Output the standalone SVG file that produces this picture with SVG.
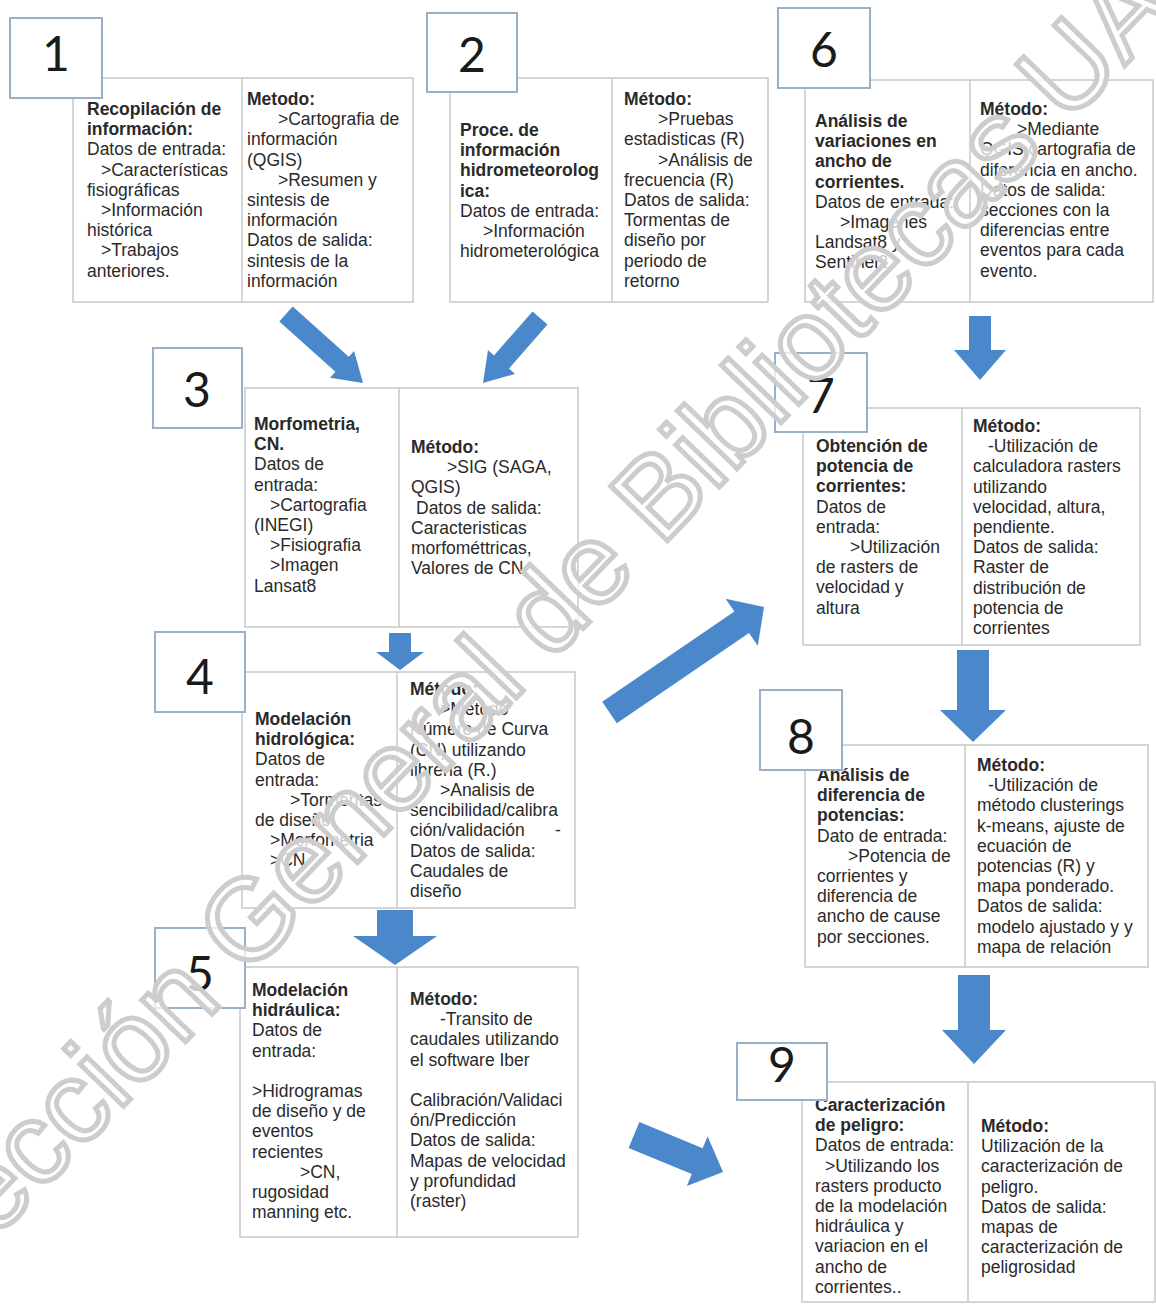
<svg xmlns="http://www.w3.org/2000/svg" width="1156" height="1304" viewBox="0 0 1156 1304">
<style>
.box{fill:#fff;stroke:#c8c8c8;stroke-width:1.5}
.div{stroke:#c8c8c8;stroke-width:1.5}
.nb{fill:#fff;stroke:#9ab0c6;stroke-width:2}
.num{font-family:Lato,"Open Sans","Liberation Sans",sans-serif;font-size:48px;fill:#1a1a1a;text-anchor:middle}
.t{font-family:"Liberation Sans",Arial,sans-serif;font-size:17.5px;fill:#2a2a2a}
.b{font-weight:bold}
.arr{fill:#4a88cb}
.wm{font-family:"Liberation Sans",Arial,sans-serif;font-size:114.5px;fill:#fff;fill-opacity:0.75;stroke:#cdcdcd;stroke-width:5}
</style>
<rect width="1156" height="1304" fill="#fff"/>

<g id="connectors">
<polygon class="arr" points="292.7,306.6 348.8,356.8 354.1,350.9 363,383 330.1,377.7 335.4,371.8 279.3,321.5"/>
<polygon class="arr" points="547.5,324.6 509,368.6 515,373.9 483,383 488,350.1 494,355.4 532.5,311.4"/>
<polygon class="arr" points="969,316 991,316 991,350 1006,350 980,380 954,350 969,350"/>
<polygon class="arr" points="389,633 411,633 411,652 424,652 400,670 376,652 389,652"/>
<polygon class="arr" points="957,650 989,650 989,710 1006,710 973,742 940,710 957,710"/>
<polygon class="arr" points="377,910 413,910 413,936 437,936 395,965 353,936 377,936"/>
<polygon class="arr" points="958,975 990,975 990,1030 1006,1030 974,1064 942,1030 958,1030"/>
<polygon class="arr" points="602.2,701.8 734.4,611.5 725.6,598.7 764,607 757.8,645.7 749,632.9 616.8,723.2"/>
<polygon class="arr" points="639.4,1122.1 702.6,1148.3 707.6,1136.3 723,1172 686.8,1186.1 691.8,1174.1 628.6,1147.9"/>
</g>

<g id="node1">
<rect class="box" x="73" y="78" width="340" height="224"/>
<line class="div" x1="242" y1="78" x2="242" y2="302"/>
<text class="t"><tspan class="b" x="87" y="115">Recopilación de</tspan><tspan class="b" x="87" y="135">información:</tspan><tspan x="87" y="155">Datos de entrada:</tspan><tspan x="101" y="176">&gt;Características</tspan><tspan x="87" y="196">fisiográficas</tspan><tspan x="101" y="216">&gt;Información</tspan><tspan x="87" y="236">histórica</tspan><tspan x="101" y="256">&gt;Trabajos</tspan><tspan x="87" y="277">anteriores.</tspan></text>
<text class="t"><tspan class="b" x="247" y="105">Metodo:</tspan><tspan x="278" y="125">&gt;Cartografia de</tspan><tspan x="247" y="145">información</tspan><tspan x="247" y="166">(QGIS)</tspan><tspan x="278" y="186">&gt;Resumen y</tspan><tspan x="247" y="206">sintesis de</tspan><tspan x="247" y="226">información</tspan><tspan x="247" y="246">Datos de salida:</tspan><tspan x="247" y="267">sintesis de la</tspan><tspan x="247" y="287">información</tspan></text>
<rect class="nb" x="10" y="18" width="92" height="80"/>
<text class="num" x="56" y="71">1</text>
</g>

<g id="node2">
<rect class="box" x="450" y="78" width="318" height="224"/>
<line class="div" x1="612" y1="78" x2="612" y2="302"/>
<text class="t"><tspan class="b" x="460" y="136">Proce. de</tspan><tspan class="b" x="460" y="156">información</tspan><tspan class="b" x="460" y="176">hidrometeorolog</tspan><tspan class="b" x="460" y="197">ica:</tspan><tspan x="460" y="217">Datos de entrada:</tspan><tspan x="483" y="237">&gt;Información</tspan><tspan x="460" y="257">hidrometerológica</tspan></text>
<text class="t"><tspan class="b" x="624" y="105">Método:</tspan><tspan x="658" y="125">&gt;Pruebas</tspan><tspan x="624" y="145">estadisticas (R)</tspan><tspan x="658" y="166">&gt;Análisis de</tspan><tspan x="624" y="186">frecuencia (R)</tspan><tspan x="624" y="206">Datos de salida:</tspan><tspan x="624" y="226">Tormentas de</tspan><tspan x="624" y="246">diseño por</tspan><tspan x="624" y="267">periodo de</tspan><tspan x="624" y="287">retorno</tspan></text>
<rect class="nb" x="427" y="13" width="90" height="79"/>
<text class="num" x="472" y="72">2</text>
</g>

<g id="node6">
<rect class="box" x="805" y="80" width="348" height="222"/>
<line class="div" x1="970" y1="80" x2="970" y2="302"/>
<text class="t"><tspan class="b" x="815" y="127">Análisis de</tspan><tspan class="b" x="815" y="147">variaciones en</tspan><tspan class="b" x="815" y="167">ancho de</tspan><tspan class="b" x="815" y="188">corrientes.</tspan><tspan x="815" y="208">Datos de entrada:</tspan><tspan x="840" y="228">&gt;Imagenes</tspan><tspan x="815" y="248">Landsat8 y</tspan><tspan x="815" y="268">Sentinel2</tspan></text>
<text class="t"><tspan class="b" x="980" y="115">Método:</tspan><tspan x="1017" y="135">&gt;Mediante</tspan><tspan x="980" y="155">QGIS cartografia de</tspan><tspan x="980" y="176">diferencia en ancho.</tspan><tspan x="980" y="196">Datos de salida:</tspan><tspan x="980" y="216">secciones con la</tspan><tspan x="980" y="236">diferencias entre</tspan><tspan x="980" y="256">eventos para cada</tspan><tspan x="980" y="277">evento.</tspan></text>
<rect class="nb" x="778" y="8" width="92" height="80"/>
<text class="num" x="824" y="67">6</text>
</g>

<g id="node3">
<rect class="box" x="245" y="388" width="333" height="239"/>
<line class="div" x1="399" y1="388" x2="399" y2="627"/>
<text class="t"><tspan class="b" x="254" y="430">Morfometria,</tspan><tspan class="b" x="254" y="450">CN.</tspan><tspan x="254" y="470">Datos de</tspan><tspan x="254" y="491">entrada:</tspan><tspan x="270" y="511">&gt;Cartografia</tspan><tspan x="254" y="531">(INEGI)</tspan><tspan x="270" y="551">&gt;Fisiografia</tspan><tspan x="270" y="571">&gt;Imagen</tspan><tspan x="254" y="592">Lansat8</tspan></text>
<text class="t"><tspan class="b" x="411" y="453">Método:</tspan><tspan x="447" y="473">&gt;SIG (SAGA,</tspan><tspan x="411" y="493">QGIS)</tspan><tspan x="416" y="514">Datos de salida:</tspan><tspan x="411" y="534">Caracteristicas</tspan><tspan x="411" y="554">morfométtricas,</tspan><tspan x="411" y="574">Valores de CN</tspan></text>
<rect class="nb" x="153" y="348" width="89" height="80"/>
<text class="num" x="197" y="407">3</text>
</g>

<g id="node7">
<rect class="box" x="803" y="408" width="337" height="237"/>
<line class="div" x1="962" y1="408" x2="962" y2="645"/>
<text class="t"><tspan class="b" x="816" y="452">Obtención de</tspan><tspan class="b" x="816" y="472">potencia de</tspan><tspan class="b" x="816" y="492">corrientes:</tspan><tspan x="816" y="513">Datos de</tspan><tspan x="816" y="533">entrada:</tspan><tspan x="850" y="553">&gt;Utilización</tspan><tspan x="816" y="573">de rasters de</tspan><tspan x="816" y="593">velocidad y</tspan><tspan x="816" y="614">altura</tspan></text>
<text class="t"><tspan class="b" x="973" y="432">Método:</tspan><tspan x="988" y="452">-Utilización de</tspan><tspan x="973" y="472">calculadora rasters</tspan><tspan x="973" y="493">utilizando</tspan><tspan x="973" y="513">velocidad, altura,</tspan><tspan x="973" y="533">pendiente.</tspan><tspan x="973" y="553">Datos de salida:</tspan><tspan x="973" y="573">Raster de</tspan><tspan x="973" y="594">distribución de</tspan><tspan x="973" y="614">potencia de</tspan><tspan x="973" y="634">corrientes</tspan></text>
<rect class="nb" x="775" y="353" width="92" height="79"/>
<text class="num" x="821" y="413">7</text>
</g>

<g id="node4">
<rect class="box" x="242" y="672" width="333" height="236"/>
<line class="div" x1="397" y1="672" x2="397" y2="908"/>
<text class="t"><tspan class="b" x="255" y="725">Modelación</tspan><tspan class="b" x="255" y="745">hidrológica:</tspan><tspan x="255" y="765">Datos de</tspan><tspan x="255" y="786">entrada:</tspan><tspan x="290" y="806">&gt;Tormentas</tspan><tspan x="255" y="826">de diseño</tspan><tspan x="270" y="846">&gt;Morfometria</tspan><tspan x="270" y="866">&gt;CN</tspan></text>
<text class="t"><tspan class="b" x="410" y="695">Método:</tspan><tspan x="440" y="715">&gt;Método</tspan><tspan x="410" y="735">Número de Curva</tspan><tspan x="410" y="756">(CN) utilizando</tspan><tspan x="410" y="776">libreria (R.)</tspan><tspan x="440" y="796">&gt;Analisis de</tspan><tspan x="410" y="816">sencibilidad/calibra</tspan><tspan x="410" y="836">ción/validación</tspan><tspan x="555" y="836">-</tspan><tspan x="410" y="857">Datos de salida:</tspan><tspan x="410" y="877">Caudales de</tspan><tspan x="410" y="897">diseño</tspan></text>
<rect class="nb" x="155" y="632" width="90" height="80"/>
<text class="num" x="200" y="694">4</text>
</g>

<g id="node8">
<rect class="box" x="805" y="745" width="343" height="222"/>
<line class="div" x1="965" y1="745" x2="965" y2="967"/>
<text class="t"><tspan class="b" x="817" y="781">Análisis de</tspan><tspan class="b" x="817" y="801">diferencia de</tspan><tspan class="b" x="817" y="821">potencias:</tspan><tspan x="817" y="842">Dato de entrada:</tspan><tspan x="848" y="862">&gt;Potencia de</tspan><tspan x="817" y="882">corrientes y</tspan><tspan x="817" y="902">diferencia de</tspan><tspan x="817" y="922">ancho de cause</tspan><tspan x="817" y="943">por secciones.</tspan></text>
<text class="t"><tspan class="b" x="977" y="771">Método:</tspan><tspan x="988" y="791">-Utilización de</tspan><tspan x="977" y="811">método clusterings</tspan><tspan x="977" y="832">k-means, ajuste de</tspan><tspan x="977" y="852">ecuación de</tspan><tspan x="977" y="872">potencias (R) y</tspan><tspan x="977" y="892">mapa ponderado.</tspan><tspan x="977" y="912">Datos de salida:</tspan><tspan x="977" y="933">modelo ajustado y y</tspan><tspan x="977" y="953">mapa de relación</tspan></text>
<rect class="nb" x="760" y="690" width="82" height="80"/>
<text class="num" x="801" y="754">8</text>
</g>

<g id="node5">
<rect class="box" x="240" y="967" width="338" height="270"/>
<line class="div" x1="397" y1="967" x2="397" y2="1237"/>
<text class="t"><tspan class="b" x="252" y="996">Modelación</tspan><tspan class="b" x="252" y="1016">hidráulica:</tspan><tspan x="252" y="1036">Datos de</tspan><tspan x="252" y="1057">entrada:</tspan><tspan x="252" y="1097">&gt;Hidrogramas</tspan><tspan x="252" y="1117">de diseño y de</tspan><tspan x="252" y="1137">eventos</tspan><tspan x="252" y="1158">recientes</tspan><tspan x="300" y="1178">&gt;CN,</tspan><tspan x="252" y="1198">rugosidad</tspan><tspan x="252" y="1218">manning etc.</tspan></text>
<text class="t"><tspan class="b" x="410" y="1005">Método:</tspan><tspan x="440" y="1025">-Transito de</tspan><tspan x="410" y="1045">caudales utilizando</tspan><tspan x="410" y="1066">el software Iber</tspan><tspan x="410" y="1106">Calibración/Validaci</tspan><tspan x="410" y="1126">ón/Predicción</tspan><tspan x="410" y="1146">Datos de salida:</tspan><tspan x="410" y="1167">Mapas de velocidad</tspan><tspan x="410" y="1187">y profundidad</tspan><tspan x="410" y="1207">(raster)</tspan></text>
<rect class="nb" x="155" y="928" width="90" height="80"/>
<text class="num" x="200" y="991">5</text>
</g>

<g id="node9">
<rect class="box" x="802" y="1082" width="353" height="220"/>
<line class="div" x1="968" y1="1082" x2="968" y2="1302"/>
<text class="t"><tspan class="b" x="815" y="1111">Caracterización</tspan><tspan class="b" x="815" y="1131">de peligro:</tspan><tspan x="815" y="1151">Datos de entrada:</tspan><tspan x="825" y="1172">&gt;Utilizando los</tspan><tspan x="815" y="1192">rasters producto</tspan><tspan x="815" y="1212">de la modelación</tspan><tspan x="815" y="1232">hidráulica y</tspan><tspan x="815" y="1252">variacion en el</tspan><tspan x="815" y="1273">ancho de</tspan><tspan x="815" y="1293">corrientes..</tspan></text>
<text class="t"><tspan class="b" x="981" y="1132">Método:</tspan><tspan x="981" y="1152">Utilización de la</tspan><tspan x="981" y="1172">caracterización de</tspan><tspan x="981" y="1193">peligro.</tspan><tspan x="981" y="1213">Datos de salida:</tspan><tspan x="981" y="1233">mapas de</tspan><tspan x="981" y="1253">caracterización de</tspan><tspan x="981" y="1273">peligrosidad</tspan></text>
<rect class="nb" x="737" y="1043" width="90" height="57"/>
<text class="num" x="782" y="1082">9</text>
</g>

<g id="watermark">
<text class="wm" transform="translate(-106.8 1345.4) rotate(-46.1)">Dirección General de Bibliotecas UAQ</text>
</g>
</svg>
